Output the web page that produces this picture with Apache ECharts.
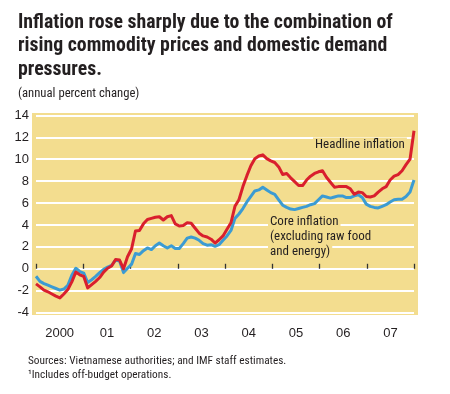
<!DOCTYPE html>
<html>
<head>
<meta charset="utf-8">
<script src="https://cdn.jsdelivr.net/npm/echarts@6/dist/echarts.min.js"></script>
<style>
html,body{margin:0;padding:0;background:#fff;}
#c{width:450px;height:394px;}
</style>
</head>
<body>
<div id="c"></div>
<script>
// Monthly data, Jan 2000 – Dec 2007 (annual percent change)
const yearLabels = ['2000','01','02','03','04','05','06','07'];
const yTicks = [-4,-2,0,2,4,6,8,10,12,14];
const headline = [
 -1.38,-1.65,-1.95,-2.1,-2.3,-2.5,-2.66,-2.3,-1.9,-1.2,-0.3,-0.55,
 -0.7,-1.75,-1.45,-1.15,-0.8,-0.3,0.05,0.25,0.84,0.8,0.0,1.1,
 1.8,3.45,3.5,4.1,4.5,4.6,4.7,4.75,4.45,4.75,4.85,4.1,
 3.9,3.95,4.2,4.15,3.7,3.25,3.0,2.9,2.7,2.35,2.65,3.0,
 3.6,4.2,5.7,6.3,7.5,8.5,9.4,10.05,10.3,10.4,10.05,9.85,
 9.7,9.3,8.6,8.7,8.3,7.95,7.6,7.6,8.1,8.45,8.7,8.85,
 8.95,8.35,7.9,7.45,7.5,7.5,7.5,7.3,6.8,7.0,6.95,6.6,
 6.55,6.65,7.0,7.3,7.5,8.1,8.45,8.6,8.95,9.5,10.0,12.6
];
const core = [
 -0.68,-1.15,-1.35,-1.5,-1.65,-1.8,-1.95,-1.85,-1.5,-0.6,0.05,-0.25,
 -0.4,-1.25,-1.0,-0.7,-0.35,-0.05,0.15,0.3,0.8,0.7,-0.35,0.05,
 0.4,1.4,1.3,1.65,1.9,1.75,2.1,2.35,2.1,1.9,2.1,1.85,
 1.85,2.3,2.8,2.9,2.8,2.6,2.3,2.15,2.2,2.05,2.2,2.6,
 3.0,3.5,4.6,5.0,5.5,6.1,6.6,7.1,7.2,7.45,7.2,6.95,
 6.8,6.3,5.8,5.6,5.45,5.4,5.5,5.6,5.7,5.85,5.95,6.3,
 6.65,6.55,6.45,6.55,6.65,6.65,6.5,6.5,6.65,6.75,6.5,5.9,
 5.7,5.6,5.55,5.7,5.85,6.1,6.3,6.35,6.35,6.6,7.0,8.1
];

const RED = '#d91f2d', BLUE = '#3b9bd3', YELLOW = '#f3dd8f', INK = '#231f20';
const NARROW = '"Roboto Condensed", "Open Sans Condensed", sans-serif';
const SANS = '"Liberation Sans", Arial, sans-serif';

const nMonths = headline.length;
const chart = echarts.init(document.getElementById('c'), null, {renderer:'canvas'});
chart.setOption({
  animation:false,
  backgroundColor:'#fff',
  title:{
    text:'Inflation rose sharply due to the combination of\nrising commodity prices and domestic demand\npressures.',
    left:18, top:11, padding:0,
    textStyle:{fontFamily:NARROW, fontWeight:'bold', fontSize:19.8, lineHeight:23.5, color:INK}
  },
  grid:{left:36, top:115.4, width:378, height:197.2, show:false},
  xAxis:[{
    type:'value', min:0, max:nMonths-1, interval:(nMonths-1)/8,
    axisLine:{show:false},
    axisTick:{show:true, inside:true, length:5, lineStyle:{color:'#333', width:1.3}},
    axisLabel:{show:false},
    splitLine:{show:false}
  },{
    type:'category', data:yearLabels, boundaryGap:true, position:'bottom',
    axisLine:{show:false}, axisTick:{show:false},
    axisLabel:{fontFamily:SANS, fontSize:13, color:INK, margin:14}
  }],
  yAxis:{
    type:'value', min:yTicks[0], max:yTicks[yTicks.length-1], interval:2,
    axisLine:{show:false}, axisTick:{show:false},
    axisLabel:{fontFamily:SANS, fontSize:13, color:INK, margin:7},
    splitLine:{show:true, lineStyle:{color:'#fff', width:2}}
  },
  graphic:[
    {type:'rect', z:-10, shape:{x:32, y:113, width:386, height:202}, style:{fill:YELLOW}},
    {type:'text', z:1, style:{x:313, y:145, text:'Headline inflation', font:'13px '+NARROW, fill:INK, verticalAlign:'middle', backgroundColor:YELLOW, padding:[1,2]}},
    {type:'text', z:1, style:{x:268, y:222, text:'Core inflation', font:'13px '+NARROW, fill:INK, verticalAlign:'middle', backgroundColor:YELLOW, padding:[1,2]}},
    {type:'text', z:1, style:{x:268, y:237, text:'(excluding raw food', font:'13px '+NARROW, fill:INK, verticalAlign:'middle', backgroundColor:YELLOW, padding:[1,2]}},
    {type:'text', z:1, style:{x:268, y:252, text:'and energy)', font:'13px '+NARROW, fill:INK, verticalAlign:'middle', backgroundColor:YELLOW, padding:[1,2]}},
    {type:'text', style:{x:18, y:94, text:'(annual percent change)', font:'12.7px '+NARROW, fill:INK, verticalAlign:'middle'}},
    {type:'text', style:{x:28, y:361, text:'Sources: Vietnamese authorities; and IMF staff estimates.', font:'11.3px '+NARROW, fill:INK, verticalAlign:'middle'}},
    {type:'text', style:{x:28, y:375, text:'\u00b9Includes off-budget operations.', font:'11.3px '+NARROW, fill:INK, verticalAlign:'middle'}}
  ],
  series:[
    {type:'line', name:'Core', xAxisIndex:0, data:core.map((v,i)=>[i,v]), showSymbol:false, z:3,
     lineStyle:{color:BLUE, width:3, join:'round'}},
    {type:'line', name:'Headline', xAxisIndex:0, data:headline.map((v,i)=>[i,v]), showSymbol:false, z:4,
     lineStyle:{color:RED, width:3, join:'round'}}
  ]
});
</script>
</body>
</html>
